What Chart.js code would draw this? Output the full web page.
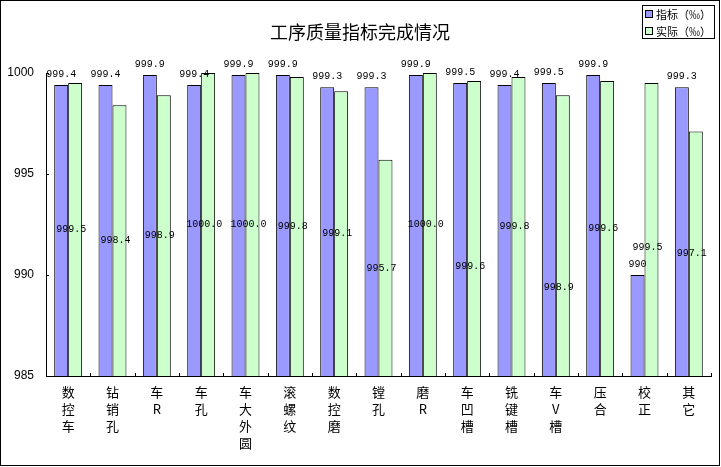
<!DOCTYPE html>
<html>
<head>
<meta charset="utf-8">
<title>工序质量指标完成情况</title>
<script src="https://cdn.jsdelivr.net/npm/chart.js@4.4.0/dist/chart.umd.min.js"></script>
<style>
  html, body { margin: 0; padding: 0; background: #fff; }
  #wrap { width: 721px; height: 467px; }
</style>
</head>
<body>
<div id="wrap"><canvas id="myChart" width="721" height="467"></canvas></div>
<script>
const categories = ["数控车", "钻销孔", "车R", "车孔", "车大外圆", "滚螺纹", "数控磨", "镗孔",
  "磨R", "车凹槽", "铣键槽", "车V槽", "压合", "校正", "其它"];
const target = [999.4, 999.4, 999.9, 999.4, 999.9, 999.9, 999.3, 999.3, 999.9, 999.5, 999.4, 999.5, 999.9, 990, 999.3];
const actual = [999.5, 998.4, 998.9, 1000.0, 1000.0, 999.8, 999.1, 995.7, 1000.0, 999.6, 999.8, 998.9, 999.6, 999.5, 997.1];
const yTicks = [985, 990, 995, 1000];

const colors = {
  target: "#9999FF",
  actual: "#CCFFCC",
  line: "#000000"
};

const cjk = "'Noto Sans CJK SC', 'Noto Sans', sans-serif";

// a few of the "actual" labels sit lower than the bar middle in the original
const labelNudge = { 9: 38, 11: 52, 13: 18 };

// value labels, inside tick marks, title, legend box and frame
const decorations = {
  id: "decorations",
  afterDatasetsDraw(chart) {
    const ctx = chart.ctx;
    const ys = chart.scales.y;
    const basePx = ys.getPixelForValue(ys.min);
    ctx.save();
    ctx.font = "10px 'Liberation Mono', 'DejaVu Sans Mono', monospace";
    ctx.fillStyle = "#000";
    ctx.textAlign = "center";
    ctx.textBaseline = "middle";
    chart.getDatasetMeta(0).data.forEach((bar, i) => {
      ctx.fillText(String(target[i]), bar.x, ys.getPixelForValue(target[i]) - 11);
    });
    chart.getDatasetMeta(1).data.forEach((bar, i) => {
      const top = ys.getPixelForValue(actual[i]);
      const dy = labelNudge[i] || 0;
      ctx.fillText(actual[i].toFixed(1), bar.x - 4, (top + basePx) / 2 + dy);
    });
    ctx.restore();
  },
  afterDraw(chart) {
    const ctx = chart.ctx;
    const xs = chart.scales.x;
    const ys = chart.scales.y;
    ctx.save();
    ctx.strokeStyle = colors.line;
    ctx.lineWidth = 1;

    // tick marks pointing into the plot
    ctx.beginPath();
    yTicks.forEach(v => {
      const py = Math.round(ys.getPixelForValue(v)) + 0.5;
      ctx.moveTo(ys.right, py);
      ctx.lineTo(ys.right + 3, py);
    });
    for (let i = 0; i <= categories.length; i++) {
      const px = Math.round(xs.getPixelForValue(i - 0.5)) + 0.5;
      ctx.moveTo(px, xs.top);
      ctx.lineTo(px, xs.top - 3);
    }
    ctx.stroke();

    // title
    ctx.fillStyle = "#000";
    ctx.font = "18px " + cjk;
    ctx.textAlign = "center";
    ctx.textBaseline = "middle";
    ctx.fillText("工序质量指标完成情况", 360, 32);

    // legend
    ctx.strokeRect(642.5, 5.5, 72, 33);
    ctx.font = "11px " + cjk;
    ctx.textAlign = "left";
    chart.data.datasets.forEach((ds, i) => {
      const cy = 14 + i * 17;
      ctx.fillStyle = ds.backgroundColor;
      ctx.fillRect(645, cy - 4, 8, 8);
      ctx.strokeRect(645.5, cy - 3.5, 7, 7);
      ctx.fillStyle = "#000";
      ctx.fillText(ds.label, 656, cy + 0.5);
    });

    // outer frame
    ctx.strokeRect(0.5, 0.5, 719, 465);
    ctx.restore();
  }
};

const ctx = document.getElementById("myChart").getContext("2d");
const myChart = new Chart(ctx, {
  type: "bar",
  data: {
    labels: categories.map(c => Array.from(c)),
    datasets: [
      {
        label: "指标（‰）",
        data: target,
        backgroundColor: colors.target,
        borderColor: colors.line,
        borderWidth: 1,
        categoryPercentage: 0.63,
        barPercentage: 1.0
      },
      {
        label: "实际（‰）",
        data: actual,
        backgroundColor: colors.actual,
        borderColor: colors.line,
        borderWidth: 1,
        categoryPercentage: 0.63,
        barPercentage: 1.0
      }
    ]
  },
  options: {
    responsive: false,
    animation: false,
    events: [],
    layout: { padding: { left: 0, right: 10, top: 73, bottom: 0 } },
    plugins: {
      legend: { display: false },
      title: { display: false },
      tooltip: { enabled: false }
    },
    scales: {
      x: {
        grid: { display: true, drawOnChartArea: false, drawTicks: false },
        border: { display: true, color: colors.line, width: 1 },
        ticks: {
          color: "#000",
          font: { family: cjk, size: 13, lineHeight: 1.3 },
          padding: 8,
          maxRotation: 0,
          autoSkip: false
        },
        afterFit(scale) { scale.height = 91; }
      },
      y: {
        min: 985,
        max: 1000,
        grid: { display: true, drawOnChartArea: false, drawTicks: false },
        border: { display: true, color: colors.line, width: 1 },
        ticks: {
          color: "#000",
          font: { family: "'Liberation Sans', Arial, sans-serif", size: 12 },
          padding: 12,
          callback: v => String(v)
        },
        afterBuildTicks(scale) { scale.ticks = yTicks.map(v => ({ value: v })); },
        afterFit(scale) { scale.width = 46; }
      }
    }
  },
  plugins: [decorations]
});
</script>
</body>
</html>
